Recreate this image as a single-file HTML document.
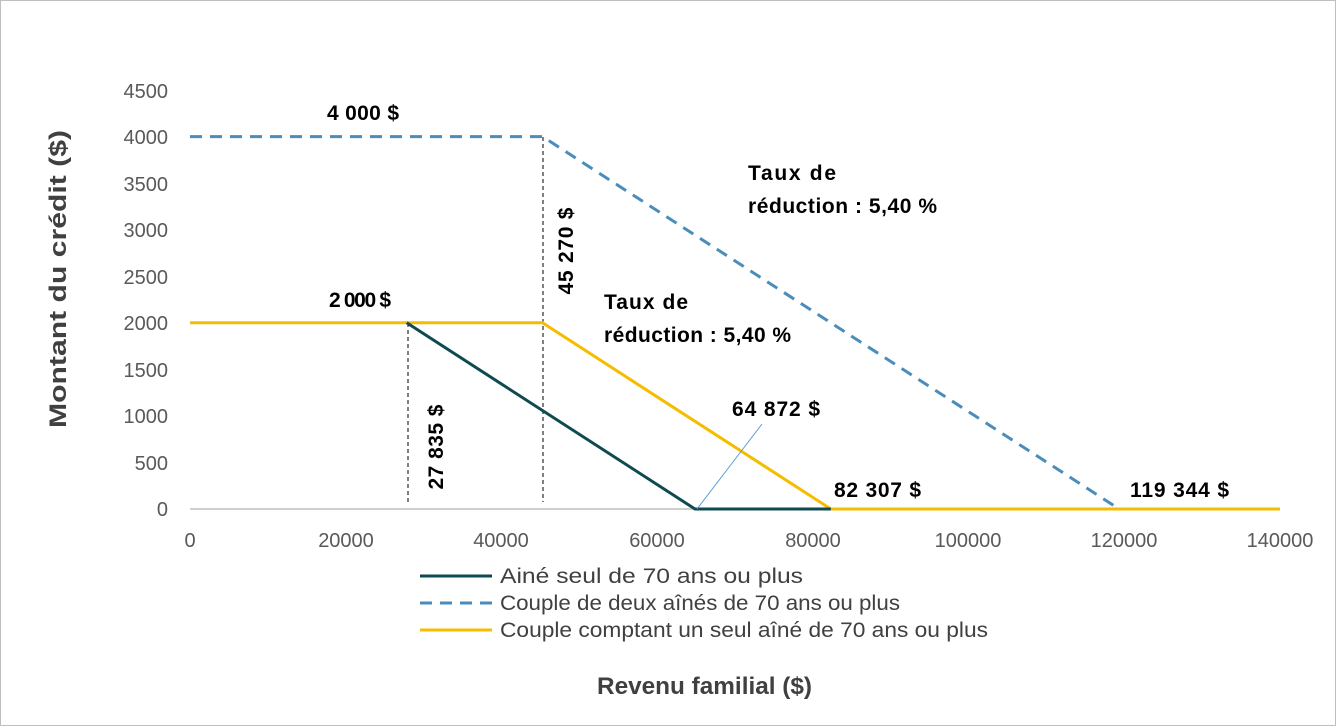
<!DOCTYPE html>
<html><head><meta charset="utf-8"><style>
html,body{margin:0;padding:0;background:#fff}
svg{display:block;font-family:"Liberation Sans",sans-serif}
</style></head><body>
<svg width="1337" height="727" viewBox="0 0 1337 727">
<rect x="0.5" y="0.5" width="1335" height="725" fill="#fff" stroke="#bfbfbf"/>
<g font-size="20" fill="#595959" text-anchor="end">
<text x="168" y="98">4500</text><text x="168" y="144">4000</text><text x="168" y="191">3500</text>
<text x="168" y="237">3000</text><text x="168" y="284">2500</text><text x="168" y="330">2000</text>
<text x="168" y="377">1500</text><text x="168" y="423">1000</text><text x="168" y="470">500</text>
<text x="168" y="516">0</text>
</g>
<g font-size="20" fill="#595959" text-anchor="middle">
<text x="190" y="547">0</text><text x="346" y="547">20000</text><text x="501" y="547">40000</text>
<text x="657" y="547">60000</text><text x="813" y="547">80000</text><text x="968" y="547">100000</text>
<text x="1124" y="547">120000</text><text x="1280" y="547">140000</text>
</g>
<line x1="190" y1="509" x2="1280" y2="509" stroke="#bfbfbf" stroke-width="1.5"/>
<line x1="408" y1="323" x2="408" y2="502" stroke="#000" stroke-width="1" stroke-dasharray="4,3"/>
<line x1="543" y1="137" x2="543" y2="502" stroke="#000" stroke-width="1" stroke-dasharray="4,3"/>
<polyline points="190,136.6 542.5,136.6 1119.2,509 1280,509" fill="none" stroke="#4a8dba" stroke-width="3" stroke-dasharray="12,8"/>
<polyline points="190,322.8 542.5,322.8 830.8,509 1280,509" fill="none" stroke="#f5bd00" stroke-width="3"/>
<polyline points="406.7,322.8 695,509 830.8,509" fill="none" stroke="#0e4a4f" stroke-width="3"/>
<line x1="697" y1="509" x2="762" y2="424" stroke="#5b9bd5" stroke-width="1"/>
<g font-size="21" font-weight="bold" fill="#000" lengthAdjust="spacingAndGlyphs">
<text x="327" y="120" textLength="72">4 000 $</text>
<text x="329" y="307" textLength="62">2 000 $</text>
<text x="748" y="180" textLength="88">Taux de</text>
<text x="748" y="213" textLength="189">réduction : 5,40 %</text>
<text x="604" y="309" textLength="84">Taux de</text>
<text x="604" y="342" textLength="187">réduction : 5,40 %</text>
<text x="732" y="416" textLength="88">64 872 $</text>
<text x="834" y="497" textLength="87">82 307 $</text>
<text x="1130" y="497" textLength="99">119 344 $</text>
<text transform="translate(443,447) rotate(-90)" text-anchor="middle" textLength="85">27 835 $</text>
<text transform="translate(573,251) rotate(-90)" text-anchor="middle" textLength="87">45 270 $</text>
</g>
<text transform="translate(66,279) rotate(-90)" text-anchor="middle" font-size="24" font-weight="bold" fill="#404040" textLength="298" lengthAdjust="spacingAndGlyphs">Montant du crédit ($)</text>
<text x="597" y="694" font-size="24" font-weight="bold" fill="#404040" textLength="215" lengthAdjust="spacingAndGlyphs">Revenu familial ($)</text>
<g font-size="21" fill="#404040">
<line x1="420" y1="576" x2="492" y2="576" stroke="#0e4a4f" stroke-width="3"/>
<text x="500" y="583" textLength="303" lengthAdjust="spacingAndGlyphs">Ainé seul de 70 ans ou plus</text>
<line x1="420" y1="603" x2="492" y2="603" stroke="#4a8dba" stroke-width="3" stroke-dasharray="12,8"/>
<text x="500" y="610" textLength="400" lengthAdjust="spacingAndGlyphs">Couple de deux aînés de 70 ans ou plus</text>
<line x1="420" y1="630" x2="492" y2="630" stroke="#f5bd00" stroke-width="3"/>
<text x="500" y="637" textLength="488" lengthAdjust="spacingAndGlyphs">Couple comptant un seul aîné de 70 ans ou plus</text>
</g>
</svg>
</body></html>
